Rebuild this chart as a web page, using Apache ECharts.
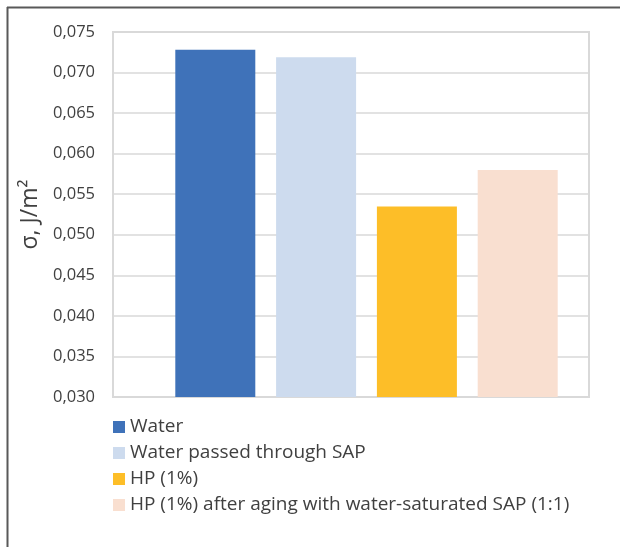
<!DOCTYPE html>
<html>
<head>
<meta charset="utf-8">
<script src="https://cdn.jsdelivr.net/npm/echarts@6/dist/echarts.min.js"></script>
<style>
  html, body { margin: 0; padding: 0; background: #fff; }
  #chart { width: 620px; height: 547px; }
</style>
</head>
<body>
<div id="chart"></div>
<script>
// one category, four samples
const categories = [""];
const seriesNames = [
  "Water",
  "Water passed through SAP",
  "HP (1%)",
  "HP (1%) after aging with water-saturated SAP (1:1)"
];
const waterVals = [0.0728];
const waterSapVals = [0.0719];
const hpVals = [0.0535];
const hpAgedVals = [0.0580];
const colors = ["#3f72b9", "#cddbee", "#fdbe28", "#f9dfd0"];

const font = "Open Sans";
const chart = echarts.init(document.getElementById("chart"));

const valueData = [waterVals, waterSapVals, hpVals, hpAgedVals];

const option = {
  animation: false,
  textStyle: { fontFamily: font },
  grid: [
    // frame + gridlines
    { left: 113, right: 31, top: 32, bottom: 150, show: true, borderColor: "#d9d9d9", borderWidth: 2 },
    // bars (Excel draws the group a bit right of centre)
    { left: 144, right: 31, top: 32, bottom: 150 }
  ],
  xAxis: [
    { gridIndex: 0, type: "category", data: categories, axisLine: { lineStyle: { color: "#d9d9d9", width: 2 } }, axisTick: { show: false }, axisLabel: { show: false } },
    { gridIndex: 1, type: "category", data: categories, show: false }
  ],
  yAxis: [
    {
      gridIndex: 0,
      type: "value",
      min: 0.030,
      max: 0.075,
      interval: 0.005,
      name: "σ, J/m²",
      nameLocation: "middle",
      nameRotate: 90,
      nameGap: 68,
      nameTextStyle: { fontSize: 23, color: "#404040", fontFamily: font },
      axisLine: { show: false },
      axisTick: { show: false },
      axisLabel: {
        fontSize: 16.5,
        color: "#404040",
        margin: 18,
        formatter: v => v.toFixed(3).replace(".", ",")
      },
      splitLine: { lineStyle: { color: "#d9d9d9", width: 1.5 } }
    },
    { gridIndex: 1, type: "value", min: 0.030, max: 0.075, interval: 0.005, show: false, splitLine: { show: false } }
  ],
  legend: {
    orient: "vertical",
    left: 113,
    top: 416,
    padding: 0,
    itemWidth: 12,
    itemHeight: 12,
    itemGap: 4,
    icon: "rect",
    textStyle: { fontSize: 19, color: "#404040", lineHeight: 22, fontFamily: font },
    data: seriesNames
  },
  graphic: [
    { type: "line", shape: { x1: 7.5, y1: 7, x2: 7.5, y2: 547 }, style: { stroke: "#595959", lineWidth: 2 } },
    { type: "line", shape: { x1: 7, y1: 7.5, x2: 620, y2: 7.5 }, style: { stroke: "#595959", lineWidth: 2 } }
  ],
  series: seriesNames.map((name, i) => ({
    name: name,
    type: "bar",
    xAxisIndex: 1,
    yAxisIndex: 1,
    data: valueData[i],
    barWidth: 80,
    barGap: "26%",
    itemStyle: { color: colors[i] }
  }))
};

chart.setOption(option);
</script>
</body>
</html>
